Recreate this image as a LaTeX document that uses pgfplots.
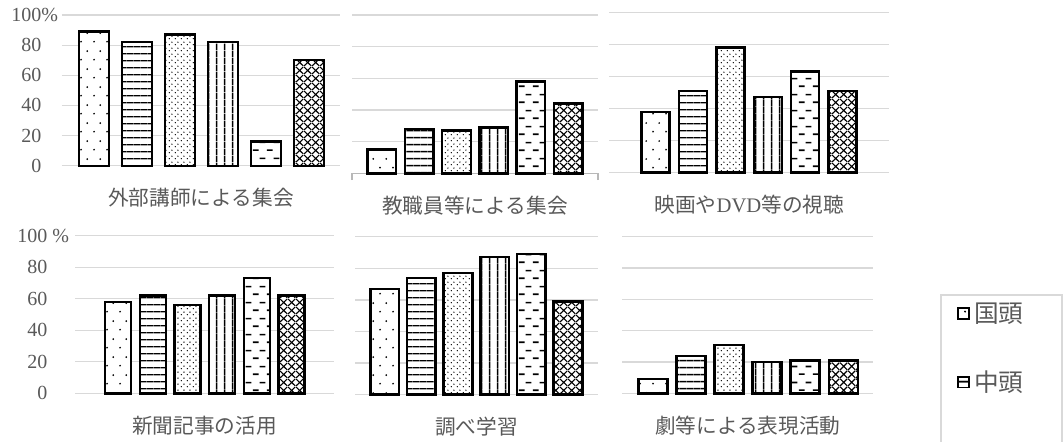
\documentclass[border=0pt]{standalone}
\usepackage{pgfplots}
\pgfplotsset{compat=1.18}
\usetikzlibrary{patterns}
\usepackage{fontspec}
\setmainfont{Liberation Serif}
\newfontfamily\cjk{Noto Sans CJK JP}
\definecolor{txt}{HTML}{595959}
\definecolor{gridc}{HTML}{D9D9D9}

% ---- patterns ----
\pgfdeclarepatternformonly{sparsedots}{\pgfpointorigin}{\pgfqpoint{9.75pt}{13.5pt}}{\pgfqpoint{9.75pt}{13.5pt}}{%
  \pgfpathcircle{\pgfqpoint{2.4pt}{3.4pt}}{0.75pt}%
  \pgfpathcircle{\pgfqpoint{7.275pt}{10.15pt}}{0.75pt}%
  \pgfusepath{fill}}
\pgfdeclarepatternformonly{densedots}{\pgfpointorigin}{\pgfqpoint{4.5pt}{4.5pt}}{\pgfqpoint{4.5pt}{4.5pt}}{%
  \pgfpathcircle{\pgfqpoint{1.1pt}{1.1pt}}{0.6pt}%
  \pgfpathcircle{\pgfqpoint{3.35pt}{3.35pt}}{0.6pt}%
  \pgfusepath{fill}}
\pgfdeclarepatternformonly{hlines}{\pgfpointorigin}{\pgfqpoint{5pt}{5.4pt}}{\pgfqpoint{5pt}{5.4pt}}{%
  \pgfsetlinewidth{1.2pt}%
  \pgfpathmoveto{\pgfqpoint{-0.1pt}{2.7pt}}\pgfpathlineto{\pgfqpoint{5.1pt}{2.7pt}}%
  \pgfusepath{stroke}}
\pgfdeclarepatternformonly{vlines}{\pgfpointorigin}{\pgfqpoint{5.7pt}{5pt}}{\pgfqpoint{5.7pt}{5pt}}{%
  \pgfsetlinewidth{1.2pt}%
  \pgfpathmoveto{\pgfqpoint{2.85pt}{-0.1pt}}\pgfpathlineto{\pgfqpoint{2.85pt}{5.1pt}}%
  \pgfusepath{stroke}}
\pgfdeclarepatternformonly{dashes}{\pgfpointorigin}{\pgfqpoint{10.5pt}{12pt}}{\pgfqpoint{10.5pt}{12pt}}{%
  \pgfsetlinewidth{1.3pt}%
  \pgfpathmoveto{\pgfqpoint{0.75pt}{3pt}}\pgfpathlineto{\pgfqpoint{5.25pt}{3pt}}%
  \pgfpathmoveto{\pgfqpoint{6pt}{9pt}}\pgfpathlineto{\pgfqpoint{10.5pt}{9pt}}%
  \pgfusepath{stroke}}
\pgfdeclarepatternformonly{xhatch}{\pgfpointorigin}{\pgfqpoint{6pt}{6pt}}{\pgfqpoint{6pt}{6pt}}{%
  \pgfsetlinewidth{0.9pt}%
  \pgfpathmoveto{\pgfqpoint{0pt}{0pt}}\pgfpathlineto{\pgfqpoint{6pt}{6pt}}%
  \pgfpathmoveto{\pgfqpoint{0pt}{6pt}}\pgfpathlineto{\pgfqpoint{6pt}{0pt}}%
  \pgfusepath{stroke}}

\pgfplotsset{
  bars/.style={draw=black, /tikz/line width=1.8pt, fill=white, bar shift=0pt,
    postaction={pattern=#1},
    legend image code/.code={\draw[draw=black, line width=1.1pt, fill=white, postaction={pattern=#1}] (0pt,-4.1pt) rectangle (8.2pt,4.1pt);}},
  panel/.style={
    scale only axis, ybar, ymin=0, ymax=100, ytick={0,20,...,100},
    ymajorgrids, grid style={draw=gridc, line width=1pt},
    axis line style={draw=none}, tick style={draw=none}, major tick length=0pt,
    xtick=\empty, yticklabels={},
    yticklabel style={font=\fontsize{15}{15}\selectfont, text=txt, inner sep=0pt, anchor=east, xshift=-2.8pt},
    xlabel style={at={(axis description cs:0.5,0)}, anchor=center, yshift=-24pt,
      font=\cjk\fontsize{15.5}{16}\selectfont, text=txt},
    clip=false,
  },
}

\begin{document}
\begin{tikzpicture}
\path[use as bounding box] (0,0) rectangle (797.25pt,-331.5pt);
\clip (0,0) rectangle (797.25pt,-331.5pt);

% Panel 1
\begin{axis}[panel, at={(46.5pt,-124.3pt)}, anchor=south west,
  width=208.5pt, height=113pt, xmin=-0.744, xmax=5.721, bar width=22.5pt,
  yticklabels={0\phantom{\%},20\phantom{\%},40\phantom{\%},60\phantom{\%},80\phantom{\%},100\%},
  xlabel={外部講師による集会}]
\addplot[bars=sparsedots] coordinates {(0,89)};
\addplot[bars=hlines]     coordinates {(1,82)};
\addplot[bars=densedots]  coordinates {(2,87)};
\addplot[bars=vlines]     coordinates {(3,82)};
\addplot[bars=dashes]     coordinates {(4,16)};
\addplot[bars=xhatch]     coordinates {(5,70)};
\end{axis}

% Panel 2
\begin{axis}[panel, at={(264pt,-130pt)}, anchor=south west,
  width=184.5pt, height=118.7pt, xmin=-0.8, xmax=5.8, bar width=21.5pt,
  axis x line*=bottom, axis y line*=left,
  x axis line style={draw=gridc!85!black, line width=1pt},
  xtick={-0.8,5.8}, xticklabels={}, xtick align=outside,
  xtick style={draw=gridc!85!black, line width=1pt}, major tick length=5pt,
  y axis line style={draw=none}, ytick style={draw=none},
  xlabel={教職員等による集会}]
\addplot[bars=sparsedots] coordinates {(0,15)};
\addplot[bars=hlines]     coordinates {(1,28)};
\addplot[bars=densedots]  coordinates {(2,27)};
\addplot[bars=vlines]     coordinates {(3,29)};
\addplot[bars=dashes]     coordinates {(4,58)};
\addplot[bars=xhatch]     coordinates {(5,44)};
\end{axis}

% Panel 3
\begin{axis}[panel, at={(457pt,-129.5pt)}, anchor=south west,
  width=210pt, height=120.3pt, xmin=-1.24, xmax=6.25, bar width=21pt,
  xlabel={映画や{\rmfamily DVD}等の視聴}]
\addplot[bars=sparsedots] coordinates {(0,38)};
\addplot[bars=hlines]     coordinates {(1,51)};
\addplot[bars=densedots]  coordinates {(2,78)};
\addplot[bars=vlines]     coordinates {(3,47)};
\addplot[bars=dashes]     coordinates {(4,63)};
\addplot[bars=xhatch]     coordinates {(5,51)};
\end{axis}

% Panel 4
\begin{axis}[panel, at={(56.25pt,-295pt)}, anchor=south west,
  width=194.5pt, height=118.2pt, xmin=-1.25, xmax=6.24, bar width=19.5pt,
  yticklabels={0\phantom{\ \%},20\phantom{\ \%},40\phantom{\ \%},60\phantom{\ \%},80\phantom{\ \%},100\ \%},
  yticklabel style={xshift=-1.5pt},
  xlabel={新聞記事の活用}]
\addplot[bars=sparsedots] coordinates {(0,58)};
\addplot[bars=hlines]     coordinates {(1,62)};
\addplot[bars=densedots]  coordinates {(2,56)};
\addplot[bars=vlines]     coordinates {(3,62)};
\addplot[bars=dashes]     coordinates {(4,73)};
\addplot[bars=xhatch]     coordinates {(5,62)};
\end{axis}

% Panel 5
\begin{axis}[panel, at={(266.25pt,-296pt)}, anchor=south west,
  width=182pt, height=118.5pt, xmin=-0.81, xmax=5.81, bar width=21.5pt,
  xlabel={調べ学習}]
\addplot[bars=sparsedots] coordinates {(0,67)};
\addplot[bars=hlines]     coordinates {(1,74)};
\addplot[bars=densedots]  coordinates {(2,77)};
\addplot[bars=vlines]     coordinates {(3,87)};
\addplot[bars=dashes]     coordinates {(4,89)};
\addplot[bars=xhatch]     coordinates {(5,59)};
\end{axis}

% Panel 6 (with legend)
\begin{axis}[panel, at={(466.7pt,-295pt)}, anchor=south west,
  width=188.25pt, height=117.45pt, xmin=-0.81, xmax=5.79, bar width=21.75pt,
  xlabel={劇等による表現活動},
  legend cell align=left,
  legend style={at={(1.2697,0.6277)}, anchor=north west,
    draw=none, fill=none,
    font=\cjk\fontsize{18.5}{18.5}\selectfont, text=txt,
    inner xsep=12pt, inner ysep=4.5pt, row sep=33pt, column sep=2.5pt,
    nodes={inner sep=1pt}}]
\draw[gridc, line width=0.9pt] (rel axis cs:1.2697,0.6277) rectangle (rel axis cs:1.752,-0.6);
\addplot[bars=sparsedots] coordinates {(0,9)};
\addplot[bars=hlines]     coordinates {(1,24)};
\addplot[bars=densedots]  coordinates {(2,31)};
\addplot[bars=vlines]     coordinates {(3,20)};
\addplot[bars=dashes]     coordinates {(4,21)};
\addplot[bars=xhatch]     coordinates {(5,21)};
\legend{国頭,中頭}
\end{axis}
\end{tikzpicture}
\end{document}
